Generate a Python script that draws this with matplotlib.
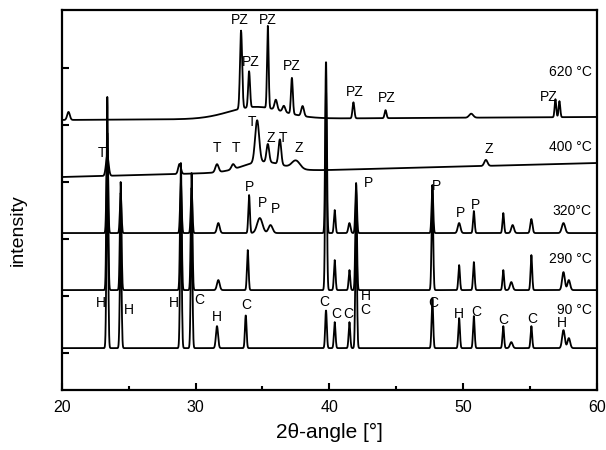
import matplotlib
matplotlib.use("Agg")
import matplotlib.pyplot as plt
import numpy as np

plt.rcParams['font.family'] = ['Liberation Sans', 'DejaVu Sans']

# peak lists per trace: 2theta position, height, width (sigma, deg)
pos_90 = [23.4, 24.4, 28.9, 29.7, 31.6, 33.75, 39.75, 40.4, 41.5, 42.0, 47.7, 49.7, 50.8, 53.0, 53.6, 55.1, 57.5, 57.9]
hgt_90 = [200, 120, 150, 140, 22, 33, 38, 26, 26, 130, 50, 30, 32, 22, 6, 22, 18, 10]
wid_90 = [0.06, 0.06, 0.06, 0.06, 0.08, 0.06, 0.06, 0.06, 0.06, 0.06, 0.06, 0.06, 0.06, 0.06, 0.1, 0.06, 0.1, 0.1]
base_90 = [42, 42]

pos_290 = [23.4, 24.4, 28.9, 29.7, 31.7, 33.9, 39.75, 40.4, 41.5, 42.0, 47.7, 49.7, 50.8, 53.0, 53.6, 55.1, 57.5, 57.9]
hgt_290 = [193, 108, 127, 117, 10, 40, 200, 30, 20, 100, 100, 25, 28, 20, 8, 35, 18, 10]
wid_290 = [0.06, 0.06, 0.06, 0.06, 0.1, 0.06, 0.06, 0.06, 0.06, 0.06, 0.06, 0.06, 0.06, 0.06, 0.1, 0.06, 0.1, 0.1]
base_290 = [100, 100]

pos_320 = [23.4, 24.4, 28.9, 29.7, 31.7, 34.0, 34.8, 35.6, 39.75, 40.4, 41.5, 42.0, 47.7, 49.7, 50.8, 53.0, 53.7, 55.1, 57.5]
hgt_320 = [100, 40, 50, 45, 10, 38, 15, 8, 173, 23, 10, 50, 48, 10, 22, 20, 8, 14, 10]
wid_320 = [0.06, 0.06, 0.06, 0.06, 0.1, 0.06, 0.2, 0.15, 0.06, 0.06, 0.08, 0.06, 0.06, 0.1, 0.06, 0.06, 0.1, 0.08, 0.12]
base_320 = [157, 157]

pos_400 = [23.4, 28.8, 31.6, 32.8, 34.6, 35.0, 35.4, 36.3, 37.5, 51.7]
hgt_400 = [20, 10, 8, 5, 42, 10, 18, 25, 8, 6]
wid_400 = [0.1, 0.1, 0.12, 0.12, 0.15, 1.5, 0.1, 0.1, 0.3, 0.12]
base_400 = [213, 227]

pos_620 = [20.5, 33.4, 34.0, 34.5, 35.4, 36.0, 36.6, 37.2, 38.0, 41.8, 44.2, 50.6, 56.9, 57.2]
hgt_620 = [8, 78, 36, 12, 82, 10, 6, 36, 10, 16, 8, 4, 18, 16]
wid_620 = [0.1, 0.08, 0.07, 2.0, 0.06, 0.1, 0.1, 0.07, 0.1, 0.07, 0.07, 0.15, 0.06, 0.06]
base_620 = [270, 273]

traces = [
    (pos_90, hgt_90, wid_90, base_90),
    (pos_290, hgt_290, wid_290, base_290),
    (pos_320, hgt_320, wid_320, base_320),
    (pos_400, hgt_400, wid_400, base_400),
    (pos_620, hgt_620, wid_620, base_620),
]

# peak labels: text, 2theta, y
labels = [
    ('PZ', 33.3, 363), ('PZ', 35.4, 363), ('PZ', 34.1, 321), ('PZ', 37.2, 317),
    ('PZ', 41.9, 291), ('PZ', 44.3, 285), ('PZ', 56.4, 286),
    ('T', 23.0, 230), ('T', 31.6, 235), ('T', 33.0, 235), ('T', 34.2, 261),
    ('Z', 35.6, 245), ('T', 36.5, 245), ('Z', 37.7, 235), ('Z', 51.9, 234),
    ('P', 34.0, 196), ('P', 35.0, 180), ('P', 36.0, 174), ('P', 42.9, 200),
    ('P', 48.0, 197), ('P', 49.8, 170), ('P', 50.9, 178),
    ('H', 22.9, 80), ('H', 25.0, 73), ('H', 28.4, 80), ('C', 30.3, 83),
    ('H', 31.6, 66), ('C', 33.8, 78), ('C', 39.6, 81), ('C', 40.5, 69),
    ('C', 41.4, 69), ('H', 42.7, 87), ('C', 42.7, 73), ('C', 47.8, 80),
    ('H', 49.7, 69), ('C', 51.0, 71), ('C', 53.0, 63), ('C', 55.2, 64),
    ('H', 57.4, 60),
]
temps = [('90 °C', 59.6, 73), ('290 °C', 59.6, 124), ('320°C', 59.6, 172),
         ('400 °C', 59.6, 236), ('620 °C', 59.6, 311)]

angle = np.arange(20, 60.001, 0.02)

fig = plt.figure(figsize=(6.06, 4.5), dpi=100)
ax = fig.add_axes([0.102, 0.133, 0.883, 0.845])

for pos, hgt, wid, base in traces:
    y = np.interp(angle, [20, 60], base)
    for p, h, w in zip(pos, hgt, wid):
        y = y + h * np.exp(-0.5 * ((angle - p) / w) ** 2)
    ax.plot(angle, y, color='black', lw=1.3)

for txt, x, y in labels:
    ax.text(x, y, txt, ha='center', va='bottom', fontsize=10)
for txt, x, y in temps:
    ax.text(x, y, txt, ha='right', va='bottom', fontsize=10)

ax.set_xlim(20, 60)
ax.set_ylim(0, 380)
ax.set_xticks([20, 30, 40, 50, 60])
ax.set_xticks([25, 35, 45, 55], minor=True)
ax.set_yticks([37, 94, 151, 208, 265, 322])
ax.set_yticklabels([])
ax.tick_params(direction='in', length=5, width=1.5, labelsize=11.5, pad=7)
ax.tick_params(which='minor', direction='in', length=3, width=1.5)
for s in ax.spines.values():
    s.set_linewidth(1.6)

ax.set_xlabel('2θ-angle [°]', fontsize=15, labelpad=6)
ax.set_ylabel('intensity', fontsize=14)
ax.yaxis.set_label_coords(-0.066, 0.42)

plt.savefig('out.png', dpi=100)
